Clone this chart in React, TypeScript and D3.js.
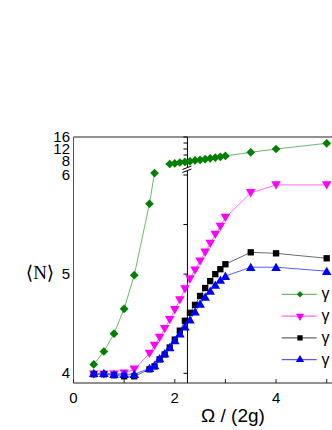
import React from 'react'
import * as d3 from 'd3'

// values
const greenLowX = [0.4, 0.6, 0.8, 1.0, 1.2, 1.5, 1.6]
const greenLowY = [4.09, 4.22, 4.4, 4.65, 4.99, 5.71, 6.02]
const greenHighX = [1.9, 2.0, 2.1, 2.2, 2.3, 2.4, 2.5, 2.6, 2.7, 2.8, 2.9, 3.0, 3.5, 4.0, 5.0]
const greenHighY = [7.0, 7.2, 7.5, 7.7, 7.9, 8.2, 8.4, 8.6, 8.9, 9.1, 9.4, 9.7, 10.9, 12.0, 13.9]

const denseX = [0.4, 0.6, 0.8, 1.0, 1.2, 1.5, 1.6, 1.7, 1.8, 1.9, 2.0, 2.1, 2.2, 2.3, 2.4, 2.5, 2.6, 2.7, 2.8, 2.9, 3.0, 3.5, 4.0, 5.0]
const magentaY = [3.99, 3.99, 3.99, 4.0, 4.04, 4.2, 4.28, 4.36, 4.45, 4.54, 4.64, 4.74, 4.85, 4.95, 5.04, 5.13, 5.22, 5.31, 5.4, 5.48, 5.57, 5.82, 5.9, 5.9]
const blackY = [3.99, 3.99, 3.98, 3.97, 3.97, 4.04, 4.07, 4.14, 4.19, 4.26, 4.34, 4.43, 4.53, 4.61, 4.69, 4.78, 4.86, 4.93, 5.0, 5.05, 5.1, 5.22, 5.21, 5.16]
const blueY = [4.0, 4.0, 3.99, 3.99, 3.99, 4.05, 4.08, 4.15, 4.2, 4.26, 4.33, 4.4, 4.47, 4.54, 4.62, 4.7, 4.77, 4.83, 4.89, 4.94, 4.98, 5.07, 5.07, 5.03]

const xTicks = [0, 1, 2, 3, 4, 5]
const xLabels = [0, 2, 4]
const yLabelsLow = [4, 5, 6]
const yLabelsHigh = [8, 12, 16]
const innerTicksLow = [4, 4.5, 5, 5.5, 6]
const innerTicksHigh = [10, 12, 14, 16]
const innerAxisAt = 2.25

const W = 332
const H = 430

const x = d3.scaleLinear().domain([0, 5]).range([73.5, 326.7])
const yLow = d3.scaleLinear().domain([4, 6]).range([373.3, 175])
const yHigh = d3.scaleLinear().domain([8, 16]).range([161, 137])
const y = (v: number) => (v > 6.5 ? yHigh(v) : yLow(v))

const top = 137
const bottom = 383

const sym = (type: d3.SymbolType, size: number) => d3.symbol().type(type).size(size)() as string

type Series = { xs: number[]; ys: number[]; color: string; line: string; shape: string; rot: number; dy: number }

const series: Series[] = [
  { xs: greenLowX, ys: greenLowY, color: '#008000', line: '#4aa64a', shape: sym(d3.symbolSquare, 38), rot: 45, dy: 0 },
  { xs: greenHighX, ys: greenHighY, color: '#008000', line: '#4aa64a', shape: sym(d3.symbolSquare, 38), rot: 45, dy: 0 },
  { xs: denseX, ys: magentaY, color: '#ff00ff', line: '#ff44ff', shape: sym(d3.symbolTriangle, 40), rot: 180, dy: -1 },
  { xs: denseX, ys: blackY, color: '#000000', line: '#444444', shape: sym(d3.symbolSquare, 40), rot: 0, dy: 0 },
  { xs: denseX, ys: blueY, color: '#0000ff', line: '#3333ff', shape: sym(d3.symbolTriangle, 40), rot: 0, dy: 1 },
]

const legend = [
  { color: '#008000', line: '#4aa64a', shape: sym(d3.symbolSquare, 20), rot: 45 },
  { color: '#ff00ff', line: '#ff44ff', shape: sym(d3.symbolTriangle, 30), rot: 180 },
  { color: '#000000', line: '#444444', shape: sym(d3.symbolSquare, 28), rot: 0 },
  { color: '#0000ff', line: '#3333ff', shape: sym(d3.symbolTriangle, 30), rot: 0 },
]

export default function App() {
  const lineGen = d3
    .line<[number, number]>()
    .x(d => x(d[0]))
    .y(d => y(d[1]))
  const ix = x(innerAxisAt)
  const sans = 'Liberation Sans, Arial, sans-serif'

  return (
    <svg width={W} height={H} style={{ position: 'absolute', left: 0, top: 0, background: '#fff' }}>
      {/* frame */}
      <line x1={x(0)} x2={W} y1={top} y2={top} stroke="#222" strokeWidth={1} />
      <line x1={x(0)} x2={x(0)} y1={top} y2={bottom} stroke="#555" strokeWidth={1} />
      <line x1={x(0)} x2={W} y1={bottom} y2={bottom} stroke="#222" strokeWidth={1} />
      {xTicks.map(t => (
        <line key={t} x1={x(t)} x2={x(t)} y1={bottom} y2={bottom - 4} stroke="#222" />
      ))}
      {xLabels.map(t => (
        <text key={t} x={x(t)} y={403} textAnchor="middle" fontSize={15} fontFamily={sans}>
          {t}
        </text>
      ))}
      <text x={233} y={422} textAnchor="middle" fontSize={19} fontFamily={sans}>
        Ω / (2g)
      </text>

      {/* left labels */}
      {yLabelsLow.map(t => (
        <text key={t} x={70} y={yLow(t) + 5} textAnchor="end" fontSize={15} fontFamily={sans}>
          {t}
        </text>
      ))}
      {yLabelsHigh.map(t => (
        <text key={t} x={70} y={yHigh(t) + 5} textAnchor="end" fontSize={15} fontFamily={sans}>
          {t}
        </text>
      ))}
      <text x={40} y={279} textAnchor="middle" fontSize={19} fontFamily="Liberation Serif, DejaVu Serif, serif">
        ⟨N⟩
      </text>

      {/* inner axis */}
      <line x1={ix} x2={ix} y1={top} y2={bottom} stroke="#000" strokeWidth={1} />
      {innerTicksLow.map(t => (
        <line key={'l' + t} x1={ix - 4} x2={ix} y1={yLow(t)} y2={yLow(t)} stroke="#000" />
      ))}
      {innerTicksHigh.map(t => (
        <line key={'h' + t} x1={ix - 4} x2={ix} y1={yHigh(t)} y2={yHigh(t)} stroke="#000" />
      ))}
      <rect x={ix - 2} y={167.5} width={4} height={3.5} fill="#fff" />
      <line x1={ix - 5} x2={ix + 4} y1={169.5} y2={166} stroke="#000" />
      <line x1={ix - 5} x2={ix + 4} y1={172.5} y2={169} stroke="#000" />

      {/* series */}
      {series.map((s, i) => {
        const pts = s.xs.map((v, j) => [v, s.ys[j]] as [number, number])
        return (
          <g key={i}>
            <path d={lineGen(pts) as string} fill="none" stroke={s.line} strokeWidth={0.8} />
            {pts.map((p, j) => (
              <path
                key={j}
                d={s.shape}
                fill={s.color}
                transform={`translate(${x(p[0])},${y(p[1]) + s.dy}) rotate(${s.rot})`}
              />
            ))}
          </g>
        )
      })}

      {/* legend */}
      {legend.map((l, i) => {
        const ly = 294.3 + i * 21.8
        return (
          <g key={i}>
            <line x1={281.7} x2={316.7} y1={ly} y2={ly} stroke={l.line} strokeWidth={1} />
            <path d={l.shape} fill={l.color} transform={`translate(300,${ly}) rotate(${l.rot})`} />
            <text x={321.5} y={ly + 5} fontSize={16} fontFamily={sans}>
              γ
            </text>
          </g>
        )
      })}
    </svg>
  )
}
